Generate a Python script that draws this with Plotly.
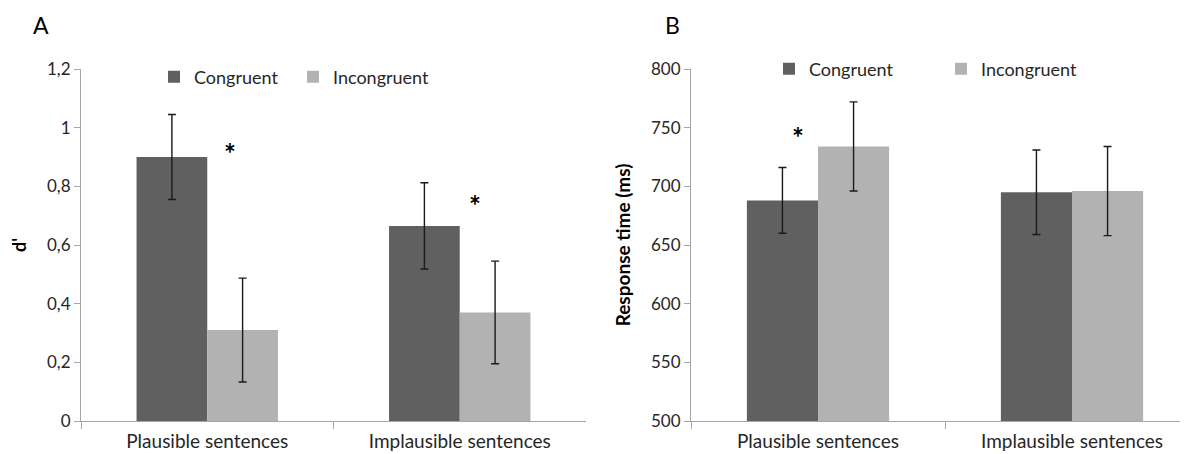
import plotly.graph_objects as go

categories = ["Plausible sentences", "Implausible sentences"]
series_names = ["Congruent", "Incongruent"]

# Panel A: d'
dprime_congruent = [0.90, 0.665]
dprime_incongruent = [0.31, 0.37]
dprime_err_congruent = [0.145, 0.147]
dprime_err_incongruent = [0.177, 0.175]

# Panel B: response time (ms)
rt_congruent = [688, 695]
rt_incongruent = [734, 696]
rt_err_congruent = [28, 36]
rt_err_incongruent = [38, 38]

dprime_ticks = [0, 0.2, 0.4, 0.6, 0.8, 1.0, 1.2]
dprime_ticklabels = ["0", "0,2", "0,4", "0,6", "0,8", "1", "1,2"]
rt_ticks = [500, 550, 600, 650, 700, 750, 800]

DARK = "#606060"
LIGHT = "#b2b2b2"
AXIS = "#a6a6a6"
FONT = "Lato, 'Liberation Sans', sans-serif"
TXT = "#262626"

# the page body adds an 8px margin, so the figure is 8px smaller than the window
W, H = 1180, 446
fig = go.Figure()

def err(v):
    return dict(type="data", array=v, color="#1a1a1a", thickness=1.4, width=4)

fig.add_trace(go.Bar(x=categories, y=dprime_congruent, name=series_names[0],
                     marker=dict(color=DARK, line=dict(width=0)), error_y=err(dprime_err_congruent),
                     xaxis="x", yaxis="y", legend="legend"))
fig.add_trace(go.Bar(x=categories, y=dprime_incongruent, name=series_names[1],
                     marker=dict(color=LIGHT, line=dict(width=0)), error_y=err(dprime_err_incongruent),
                     xaxis="x", yaxis="y", legend="legend"))
fig.add_trace(go.Bar(x=categories, y=rt_congruent, name=series_names[0],
                     marker=dict(color=DARK, line=dict(width=0)), error_y=err(rt_err_congruent),
                     xaxis="x2", yaxis="y2", legend="legend2"))
fig.add_trace(go.Bar(x=categories, y=rt_incongruent, name=series_names[1],
                     marker=dict(color=LIGHT, line=dict(width=0)), error_y=err(rt_err_incongruent),
                     xaxis="x2", yaxis="y2", legend="legend2"))

ydom = [1 - 413 / H, 1 - 61 / H]
xA = [73 / W, 578 / W]
xB = [683 / W, 1.0]

tickfont = dict(family=FONT, size=17, color=TXT)
ycommon = dict(showline=True, linecolor=AXIS, linewidth=1, ticks="outside",
               tickcolor=AXIS, ticklen=6, showgrid=False, zeroline=False,
               tickfont=tickfont, automargin=False)
xcommon = dict(showline=True, linecolor=AXIS, linewidth=1, ticks="outside",
               tickcolor=AXIS, ticklen=7, showgrid=False, zeroline=False,
               tickfont=dict(family=FONT, size=19, color=TXT), automargin=False,
               type="category", tickson="boundaries", ticklabelstandoff=3)

fig.update_layout(
    width=W, height=H, margin=dict(l=0, r=0, t=0, b=0),
    paper_bgcolor="white", plot_bgcolor="white",
    barmode="group", bargap=0.44, bargroupgap=0,
    font=dict(family=FONT, color=TXT),
    xaxis=dict(domain=xA, anchor="y", range=[-0.5, 1.5], **xcommon),
    yaxis=dict(domain=ydom, anchor="x", range=[0, 1.2], tickvals=dprime_ticks,
               ticktext=dprime_ticklabels,
               title=dict(text="<b>d'</b>", font=dict(family=FONT, size=18, color="black"), standoff=26),
               **ycommon),
    xaxis2=dict(domain=xB, anchor="y2", range=[-0.5, -0.5 + 497 / 254], **xcommon),
    yaxis2=dict(domain=ydom, anchor="x2", range=[500, 800], tickvals=rt_ticks,
                title=dict(text="<b>Response time (ms)</b>", font=dict(family=FONT, size=19, color="black"), standoff=15),
                **ycommon),
    legend=dict(orientation="h", x=146 / W, y=1 - 69 / H, xanchor="left", yanchor="middle",
                entrywidth=94, entrywidthmode="pixels", bgcolor="rgba(0,0,0,0)",
                font=dict(family=FONT, size=18, color=TXT), traceorder="normal"),
    legend2=dict(orientation="h", x=761 / W, y=1 - 61 / H, xanchor="left", yanchor="middle",
                 entrywidth=127, entrywidthmode="pixels", bgcolor="rgba(0,0,0,0)",
                 font=dict(family=FONT, size=18, color=TXT), traceorder="normal"),
    showlegend=True,
)

annots = [
    dict(text="A", xref="paper", yref="paper", x=23 / W, y=1 - 17 / H, xanchor="left", yanchor="middle",
         showarrow=False, font=dict(family=FONT, size=23, color="black")),
    dict(text="B", xref="paper", yref="paper", x=655 / W, y=1 - 17 / H, xanchor="left", yanchor="middle",
         showarrow=False, font=dict(family=FONT, size=23, color="black")),
    dict(text="<b>*</b>", xref="x", yref="y", x=categories[0], y=0.912, xshift=23, showarrow=False,
         font=dict(family=FONT, size=28, color="black")),
    dict(text="<b>*</b>", xref="x", yref="y", x=categories[1], y=0.735, xshift=15, showarrow=False,
         font=dict(family=FONT, size=28, color="black")),
    dict(text="<b>*</b>", xref="x2", yref="y2", x=categories[0], y=742, xshift=-20, showarrow=False,
         font=dict(family=FONT, size=28, color="black")),
]
fig.update_layout(annotations=annots)

fig.write_html("out.html")
